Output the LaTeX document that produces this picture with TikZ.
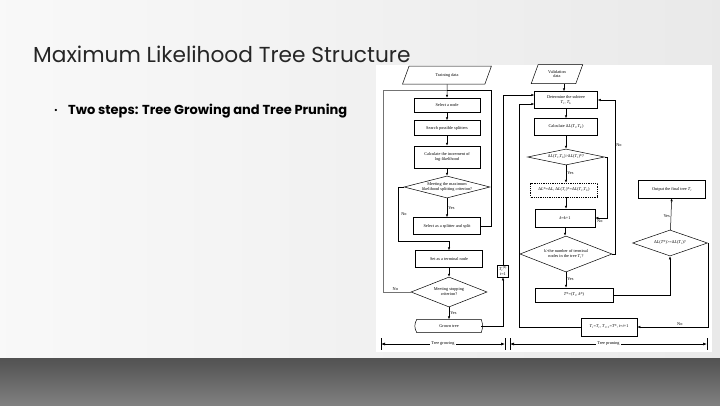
\documentclass[tikz,border=0pt]{standalone}
\usepackage{amsmath}
\usepackage{fontspec}
\setmainfont{Poppins}
\newfontfamily\chartfont{Liberation Serif}
\usepackage{tikz}
\usetikzlibrary{positioning}
\usetikzlibrary{calc,shapes.geometric,arrows.meta}

% small italic symbols in the chart font
\newcommand{\tsym}[2]{\textit{#1}\textsubscript{\textit{#2}}}
\newcommand{\dL}{Δ\textit{L}}

\tikzset{
	chart/.style={font=\chartfont\fontsize{4.3}{4.9}\selectfont},
	proc/.style={chart, draw, line width=0.5pt, fill=white, align=center, inner sep=0.5pt, minimum width=#1, minimum height=15pt},
	proc/.default=66pt,
	decision/.style={draw, diamond, line width=0.5pt, fill=white, inner sep=0pt},
	dtext/.style={chart, align=center, inner sep=0pt},
	iodata/.style={chart, draw, trapezium, trapezium left angle=70, trapezium right angle=110, line width=0.5pt, fill=white, align=center, inner sep=1pt},
	flow/.style={line width=0.5pt, -{Latex[length=3pt, width=2.4pt]}},
	link/.style={line width=0.5pt},
	lbl/.style={chart, inner sep=1pt},
}

\begin{document}
\begin{tikzpicture}[x=1pt, y=-1pt]
		
		% ---------------------
		% Proper size --- Bounding box
		\useasboundingbox (0,0) rectangle (720,405);
		\shade[left color=gray!5, right color=gray!17] (0,0) rectangle (720,358);
		\shade[top color=black!68, bottom color=black!50] (0,358) rectangle (720,405);
		\fill[white] (376,65) rectangle (712,352);
		
		% ---------------------
		% Slide text
		\node[anchor=west, font=\fontsize{21.7}{25}\selectfont, text=black!85, inner sep=0pt] (Title) at (33,54) {Maximum Likelihood Tree Structure};
		\node[anchor=west, font=\bfseries\fontsize{13}{15}\selectfont, inner sep=0pt] (Steps) at (68,111) {Two steps: Tree Growing and Tree Pruning};
		\node[left=10pt of Steps, font=\fontsize{9}{10}\selectfont, inner sep=0pt] (Dot) {\textbullet};
		
		% ---------------------
		% Tree growing
		\node[iodata, minimum width=56pt, minimum height=18pt] (Train) at (447,75) {Training data};
		\node[proc, minimum height=14pt] (SelectNode) at (447,105) {Select a node};
		\node[proc] (Search) at (447,128) {Search possible splitters};
		\node[proc, minimum height=22pt] (Increment) at (447,157) {Calculate the increment of\\log-likelihood};
		\node[decision, minimum width=86pt, minimum height=22pt,
			label={[dtext]center:Meeting the maximum\\likelihood splitting criterion?}] (MaxCrit) at (447,187) {};
		\node[proc=67pt, minimum height=17pt] (Split) at (447,226) {Select as a splitter and split};
		\node[proc=67pt, minimum height=17pt] (Terminal) at (449,259) {Set as a terminal node};
		\node[decision, minimum width=76pt, minimum height=30pt,
			label={[dtext]center:Meeting stopping\\criterion?}] (StopCrit) at (449,292) {};
		\node[chart, minimum width=64pt, minimum height=13pt] (Grown) at (449,326) {Grown tree};
		\draw[link] (Grown.north west) to[bend right=30] (Grown.south west) -- (Grown.south east)
			to[bend right=20] (Grown.north east) -- cycle;
		
		\path (Train.south) +(0,6) coordinate (LoopTop);
		\path (StopCrit.west) +(-28,0) coordinate (NoCorner);
		
		\draw[flow] (Train) -- (SelectNode);
		\draw[flow] (SelectNode) -- (Search);
		\draw[flow] (Search) -- (Increment);
		\draw[flow] (Increment) -- (MaxCrit);
		\draw[flow] (MaxCrit) -- node[lbl, right, pos=0.5] {Yes} (MaxCrit |- Split.north);
		\draw[link] (Split.east) -- ++(10,0) |- (LoopTop);
		\draw[flow] (MaxCrit.west) -- ++(-6,0) |- ($(Terminal.north)+(0,-9)$) -- (Terminal.north);
		\node[lbl] (NoSplit) at (404,214) {No};
		\draw[flow] (Terminal) -- (StopCrit);
		\draw[flow] (StopCrit) -- node[lbl, right, pos=0.45] {Yes} (Grown);
		\draw[link, black!55] (StopCrit.west) -- (NoCorner) |- (LoopTop);
		\node[lbl, above] (NoStop) at ($(StopCrit.west)!0.55!(NoCorner)$) {No};
		
		% ---------------------
		% Start of pruning
		\node[proc=11pt, minimum height=12pt, inner sep=0pt] (Init) at (503,271) {\textit{T}\textsubscript{\textit{i}}\textsuperscript{(0)}\\\textit{i}=1};
		\draw[flow] (Grown.east) -| (Init.south);
		
		% ---------------------
		% Tree pruning
		\node[iodata, minimum width=40pt, minimum height=19pt] (Valid) at (557,74) {Validation\\data};
		\node[proc=63pt, minimum height=17pt] (Subtree) at (566,100) {Determine the subtree\\\tsym{T}{i}, \tsym{T}{k}};
		\node[proc=63pt, minimum height=17pt] (CalcDL) at (566,127) {Calculate \dL(\tsym{T}{i},\tsym{T}{k})};
		\node[decision, minimum width=77pt, minimum height=16pt,
			label={[dtext]center:\dL(\tsym{T}{i},\tsym{T}{k})>\dL(\tsym{T}{i})*?}] (DLCrit) at (566,157) {};
		\node[proc=67pt, minimum height=14pt, dash pattern=on 1pt off 0.8pt] (Update) at (564,190) {\dL*=\dL, \dL(\tsym{T}{i})*=\dL(\tsym{T}{i},\tsym{T}{k})};
		\node[proc=60pt, minimum height=18pt] (KInc) at (565,218) {\textit{k}=\textit{k}+1};
		\node[decision, minimum width=92pt, minimum height=36pt,
			label={[dtext]center:\textit{k}>the number of terminal\\nodes in the tree \tsym{T}{i}?}] (KCrit) at (566,254) {};
		\node[proc=78pt, minimum height=14pt] (Best) at (574,295) {\textit{T}*=(\tsym{T}{i}, \textit{k}*)};
		\node[decision, minimum width=75pt, minimum height=26pt,
			label={[dtext]center:\dL(\textit{T}*)>=\dL(\tsym{T}{i})?}] (FinalCrit) at (670,243) {};
		\node[proc=67pt, minimum height=18pt] (Output) at (672,189) {Output the final tree \tsym{T}{i}};
		\node[proc=56pt, minimum height=18pt] (NextTree) at (609,327) {\tsym{T}{i}=\tsym{T}{i}, \tsym{T}{i+1}=\textit{T}*, \textit{i}=\textit{i}+1};
		
		\draw[flow] (Init.north) |- ($(Subtree.west)+(0,-5)$);
		\draw[flow] (NextTree.west) -- ($(NextTree.west -| Init.east)+(10,0)$) |- ($(Subtree.west)+(0,4)$);
		\draw[flow] (Valid.south -| Subtree.north) ++(-2,0) -- ($(Subtree.north)+(-2,0)$);
		\draw[flow] (Subtree) -- (CalcDL);
		\draw[flow] (CalcDL) -- (DLCrit);
		\draw[flow] (DLCrit) -- node[lbl, right, pos=0.45] {Yes} (DLCrit |- Update.north);
		\draw[flow] (DLCrit |- Update.south) -- (DLCrit |- KInc.north);
		\draw[flow] (DLCrit.east) -- ++(2,0) |- node[lbl, below, pos=0.8] {No} (KInc.east);
		\draw[flow] (KInc) -- (KInc |- KCrit.north);
		\draw[flow] (KCrit.east) -- ++(3,0) |- (Subtree.east);
		\node[lbl] (NoK) at (619,145) {No};
		\draw[flow] (KCrit.south) -- node[lbl, right, pos=0.45] {Yes} (KCrit.south |- Best.north);
		\draw[flow] (Best.east) -| (FinalCrit.south);
		\draw[flow] (FinalCrit) -- node[lbl, left, pos=0.45] {Yes} (Output);
		\draw[flow] (FinalCrit.east) -- ++(0.5,0) |- node[lbl, above, pos=0.7] {No} (NextTree.east);
		
		% ---------------------
		% Stages
		\coordinate (GrowL) at (381,344);
		\coordinate (GrowR) at (505,344);
		\coordinate (PruneL) at (510,344);
		\coordinate (PruneR) at (707,344);
		\draw[line width=1pt] (GrowL) +(0,-6) -- +(0,6);
		\draw[line width=1pt] (GrowR) +(0,-6) -- +(0,6);
		\draw[line width=1pt] (PruneL) +(0,-6) -- +(0,6);
		\draw[line width=1pt] (PruneR) +(0,-6) -- +(0,6);
		\draw[line width=0.6pt, {Latex[length=4pt, width=3pt]}-{Latex[length=4pt, width=3pt]}] (GrowL) -- node[chart, fill=white, inner sep=1pt] (GrowLbl) {Tree growing} (GrowR);
		\draw[line width=0.6pt, {Latex[length=4pt, width=3pt]}-{Latex[length=4pt, width=3pt]}] (PruneL) -- node[chart, fill=white, inner sep=1pt, pos=0.5] (PruneLbl) {Tree pruning} (PruneR);
		
\end{tikzpicture}
\end{document}
